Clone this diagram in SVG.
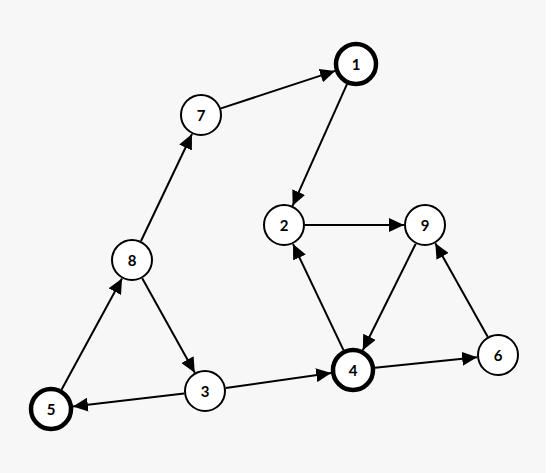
<svg xmlns="http://www.w3.org/2000/svg" width="560" height="473" viewBox="0 0 560 473">
<defs>
<style>
.bg{fill:#f7f7f7}
.node circle{fill:#fff;stroke:#000;stroke-width:2}
.node.thick circle{stroke-width:4.5}
.node text{font-family:Lato,"DejaVu Sans",sans-serif;font-weight:bold;font-size:15px;fill:#000;text-anchor:middle;dominant-baseline:central}
#edges line{stroke:#000;stroke-width:2;marker-end:url(#arr)}
</style>
<marker id="arr" markerUnits="userSpaceOnUse" markerWidth="16" markerHeight="14" refX="15" refY="7" orient="auto">
<path d="M0,0 L15,7 L0,14 z" fill="#000"/>
</marker>
</defs>
<rect class="bg" x="0" y="0" width="546" height="473"/>
<g id="edges">
<line x1="347.0" y1="84.1" x2="292.6" y2="205.8"/>
<line x1="220.9" y1="108.4" x2="335.1" y2="70.9"/>
<line x1="141.0" y1="241.0" x2="192.0" y2="134.0"/>
<line x1="61.5" y1="389.7" x2="122.0" y2="278.4"/>
<line x1="142.2" y1="278.3" x2="194.8" y2="372.7"/>
<line x1="184.1" y1="393.4" x2="72.9" y2="406.4"/>
<line x1="225.8" y1="388.0" x2="331.2" y2="373.1"/>
<line x1="343.5" y1="350.1" x2="293.0" y2="244.0"/>
<line x1="305" y1="225" x2="404" y2="225"/>
<line x1="415.7" y1="243.8" x2="362.8" y2="350.3"/>
<line x1="374.9" y1="367.7" x2="477.1" y2="357.2"/>
<line x1="487.7" y1="336.7" x2="435.3" y2="243.3"/>
</g>
<g id="node1" class="node thick"><circle cx="356" cy="64" r="20"/><text x="356" y="64">1</text></g>
<g id="node2" class="node"><circle cx="284" cy="225" r="20"/><text x="284" y="225">2</text></g>
<g id="node3" class="node"><circle cx="205" cy="391" r="20"/><text x="205" y="391">3</text></g>
<g id="node4" class="node thick"><circle cx="353" cy="370" r="20"/><text x="353" y="370">4</text></g>
<g id="node5" class="node thick"><circle cx="51" cy="409" r="20"/><text x="51" y="409">5</text></g>
<g id="node6" class="node"><circle cx="498" cy="355" r="20"/><text x="498" y="355">6</text></g>
<g id="node7" class="node"><circle cx="201" cy="115" r="20"/><text x="201" y="115">7</text></g>
<g id="node8" class="node"><circle cx="132" cy="260" r="20"/><text x="132" y="260">8</text></g>
<g id="node9" class="node"><circle cx="425" cy="225" r="20"/><text x="425" y="225">9</text></g>
</svg>
